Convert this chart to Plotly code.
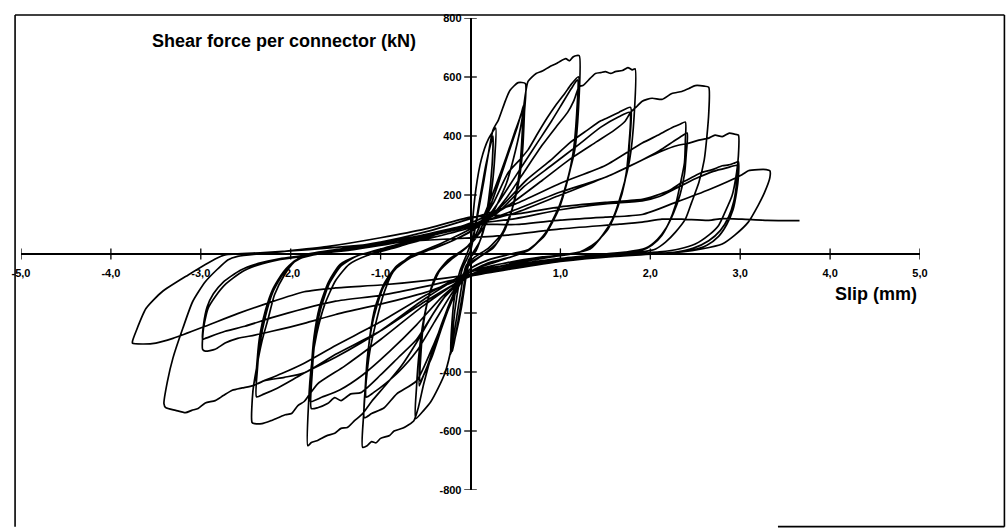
import plotly.graph_objects as go

# ---- tick values / labels ----
x_ticks = [-5, -4, -3, -2, -1, 0, 1, 2, 3, 4, 5]
x_tick_labels = ["-5,0", "-4,0", "-3,0", "-2,0", "-1,0", "", "1,0", "2,0", "3,0", "4,0", "5,0"]
y_ticks = [-800, -600, -400, -200, 0, 200, 400, 600, 800]
y_tick_labels = ["-800", "-600", "-400", "", "", "200", "400", "600", "800"]

# ---- hysteresis record: slip (mm), shear force (kN) ----
loops_small = [
    (0, 0), (0.02, 100), (0.06, 220), (0.12, 320), (0.2, 390), (0.28, 427),
    (0.27, 330), (0.24, 230), (0.18, 120), (0.1, 40), (0.0, -10),
    (-0.05, -80), (-0.1, -180), (-0.16, -270), (-0.22, -340),
    (-0.21, -250), (-0.18, -150), (-0.12, -60), (-0.04, 0),
    (0.03, 60), (0.1, 180), (0.17, 300), (0.25, 400),
    (0.24, 300), (0.2, 180), (0.14, 80), (0.06, 10), (-0.02, -20),
    (-0.08, -120), (-0.14, -230), (-0.2, -330),
    (-0.19, -240), (-0.15, -140), (-0.09, -50), (0.0, 10),
]
loops_06 = [
    (0.06, 100), (0.15, 250), (0.25, 420), (0.31, 454), (0.39, 521), (0.44, 555), (0.53, 581), (0.61, 578),
    (0.6, 480), (0.58, 353), (0.54, 250), (0.46, 150), (0.35, 70), (0.2, 20), (0.05, -10), (-0.05, -40),
    (-0.12, -150), (-0.2, -300), (-0.28, -400), (-0.36, -455), (-0.44, -500), (-0.52, -530), (-0.61, -558),
    (-0.6, -450), (-0.57, -330), (-0.52, -220), (-0.44, -120), (-0.33, -50), (-0.2, -10), (-0.05, 20),
    (0.05, 60), (0.15, 130), (0.28, 230), (0.4, 330), (0.5, 420), (0.56, 470), (0.59, 504),
    (0.58, 400), (0.55, 290), (0.5, 200), (0.42, 110), (0.3, 40), (0.15, 0), (0.0, -30),
    (-0.1, -80), (-0.2, -150), (-0.32, -250), (-0.43, -350), (-0.52, -410), (-0.57, -447),
    (-0.56, -350), (-0.53, -250), (-0.47, -150), (-0.38, -70), (-0.25, -20), (-0.1, 10),
    (0.05, 50), (0.18, 130), (0.3, 230), (0.42, 340), (0.52, 430), (0.58, 490),
    (0.57, 380), (0.54, 270), (0.48, 170), (0.38, 80), (0.25, 20), (0.1, -10), (-0.02, -40),
    (-0.12, -90), (-0.25, -180), (-0.38, -290), (-0.48, -380), (-0.56, -430),
    (-0.55, -330), (-0.52, -230), (-0.45, -130), (-0.35, -60), (-0.2, -15), (-0.05, 20),
]
loops_12 = [
    (0.1, 70), (0.25, 140), (0.4, 240), (0.5, 350), (0.57, 450), (0.61, 540), (0.64, 585), (0.73, 612),
    (0.8, 620), (0.88, 635), (0.95, 645), (0.99, 652), (1.06, 662), (1.1, 655), (1.14, 668), (1.17, 672), (1.21, 672),
    (1.2, 487), (1.16, 353), (1.1, 276), (0.99, 165), (0.84, 74), (0.66, 17), (0.45, 0), (0.2, -20), (0.0, -50),
    (-0.15, -120), (-0.3, -220), (-0.42, -330), (-0.52, -440), (-0.58, -520), (-0.63, -565), (-0.75, -590),
    (-0.85, -600), (-0.9, -615), (-1.0, -625), (-1.05, -640), (-1.1, -636), (-1.15, -650), (-1.2, -655),
    (-1.19, -550), (-1.16, -430), (-1.12, -330), (-1.05, -230), (-0.96, -130), (-0.86, -60), (-0.66, -5), (-0.4, 20), (-0.1, 60),
    (0.1, 100), (0.25, 170), (0.42, 276), (0.55, 320), (0.64, 353), (0.75, 410), (0.85, 460), (0.95, 505),
    (1.05, 545), (1.12, 575), (1.2, 601),
    (1.19, 480), (1.15, 350), (1.08, 250), (0.98, 150), (0.84, 70), (0.66, 15), (0.45, -10), (0.2, -30), (0.0, -60),
    (-0.1, -90), (-0.25, -190), (-0.4, -300), (-0.6, -430), (-0.82, -474), (-0.96, -521), (-1.1, -541), (-1.18, -555),
    (-1.17, -450), (-1.14, -330), (-1.08, -220), (-0.98, -120), (-0.85, -55), (-0.68, -15), (-0.45, 15), (-0.2, 45), (0.0, 75),
    (0.15, 110), (0.3, 170), (0.45, 240), (0.6, 310), (0.75, 380), (0.9, 450), (1.02, 510), (1.12, 560), (1.19, 590),
    (1.18, 470), (1.14, 340), (1.07, 240), (0.96, 140), (0.82, 60), (0.62, 10), (0.4, -15), (0.15, -40), (-0.05, -70),
    (-0.2, -130), (-0.4, -230), (-0.6, -330), (-0.8, -400), (-0.95, -440), (-1.08, -470), (-1.16, -485),
    (-1.15, -390), (-1.12, -280), (-1.06, -180), (-0.96, -100), (-0.82, -40), (-0.6, 0), (-0.3, 40), (0.0, 85),
]
loops_18 = [
    (0.2, 120), (0.4, 190), (0.6, 280), (0.8, 370), (0.95, 430), (1.08, 480), (1.15, 520), (1.21, 568), (1.25, 571),
    (1.33, 595), (1.39, 612), (1.45, 615), (1.5, 618), (1.56, 612), (1.61, 618), (1.69, 622), (1.75, 632), (1.8, 624), (1.83, 628),
    (1.82, 467), (1.77, 319), (1.69, 218), (1.58, 118), (1.47, 64), (1.33, 17), (1.1, 0), (0.8, -10), (0.4, -30), (0.0, -60),
    (-0.22, -120), (-0.41, -200), (-0.6, -300), (-0.77, -380), (-0.96, -450), (-1.1, -500), (-1.2, -541), (-1.29, -565),
    (-1.37, -588), (-1.44, -591), (-1.51, -608), (-1.59, -615), (-1.66, -625), (-1.7, -632), (-1.77, -639), (-1.81, -650),
    (-1.8, -500), (-1.77, -380), (-1.71, -270), (-1.62, -170), (-1.5, -90), (-1.35, -35), (-1.15, -5), (-0.8, 25), (-0.4, 65), (0.0, 105),
    (0.3, 150), (0.62, 250), (0.9, 320), (1.1, 376), (1.3, 420), (1.44, 450), (1.55, 465), (1.65, 480), (1.78, 497),
    (1.77, 380), (1.73, 270), (1.66, 180), (1.55, 100), (1.42, 45), (1.25, 10), (1.0, -5), (0.6, -25), (0.2, -50), (0.0, -70),
    (-0.3, -150), (-0.6, -290), (-0.8, -350), (-1.0, -410), (-1.22, -470), (-1.33, -474), (-1.44, -497), (-1.51, -487),
    (-1.59, -507), (-1.7, -521), (-1.77, -524),
    (-1.76, -400), (-1.73, -290), (-1.67, -190), (-1.57, -100), (-1.44, -40), (-1.25, -5), (-0.9, 20), (-0.5, 50), (0.0, 90),
    (0.3, 140), (0.6, 230), (0.9, 300), (1.2, 370), (1.45, 430), (1.65, 465), (1.77, 480),
    (1.76, 360), (1.72, 250), (1.64, 160), (1.53, 85), (1.38, 35), (1.2, 5), (0.9, -10), (0.5, -30), (0.0, -70),
    (-0.3, -140), (-0.6, -240), (-0.9, -330), (-1.2, -410), (-1.45, -460), (-1.65, -485), (-1.78, -500),
    (-1.77, -390), (-1.74, -280), (-1.68, -180), (-1.58, -95), (-1.45, -35), (-1.25, -5), (-0.9, 25), (-0.4, 65), (0.0, 95),
]
loops_24 = [
    (0.4, 160), (0.8, 250), (1.1, 320), (1.4, 380), (1.6, 420), (1.72, 450), (1.78, 480), (1.85, 500), (1.91, 518),
    (2.02, 528), (2.13, 524), (2.24, 544), (2.35, 551), (2.43, 561), (2.5, 571), (2.6, 569), (2.65, 565),
    (2.65, 477), (2.63, 400), (2.6, 319), (2.54, 242), (2.46, 175), (2.39, 118), (2.28, 74), (2.17, 40), (2.06, 17),
    (1.91, 7), (1.5, -5), (1.0, -20), (0.5, -40), (0.0, -70),
    (-0.5, -170), (-1.0, -290), (-1.4, -380), (-1.7, -440), (-1.8, -480), (-1.85, -500), (-1.92, -514), (-1.99, -541),
    (-2.06, -545), (-2.14, -555), (-2.22, -565), (-2.32, -575), (-2.4, -575), (-2.43, -571),
    (-2.42, -464), (-2.38, -387), (-2.32, -296), (-2.25, -218), (-2.18, -138), (-2.07, -71), (-1.96, -27), (-1.85, -3),
    (-1.5, 15), (-1.0, 40), (-0.5, 75), (0.0, 120),
    (0.5, 170), (1.0, 240), (1.5, 300), (1.91, 376), (2.1, 405), (2.25, 430), (2.33, 440), (2.39, 447),
    (2.39, 386), (2.38, 309), (2.33, 232), (2.28, 165), (2.21, 108), (2.13, 64), (2.02, 30), (1.91, 13), (1.5, 0),
    (1.0, -15), (0.5, -35), (0.0, -60),
    (-0.5, -150), (-1.0, -260), (-1.5, -350), (-1.85, -403), (-2.0, -430), (-2.15, -455), (-2.3, -475), (-2.38, -484),
    (-2.37, -390), (-2.34, -300), (-2.28, -210), (-2.2, -130), (-2.08, -65), (-1.95, -25), (-1.8, -5), (-1.4, 12),
    (-0.8, 40), (0.0, 100),
    (0.5, 140), (1.0, 200), (1.5, 260), (1.91, 319), (2.1, 350), (2.25, 380), (2.35, 400), (2.41, 410),
    (2.4, 340), (2.38, 270), (2.33, 200), (2.26, 140), (2.18, 90), (2.08, 50), (1.95, 20), (1.7, 5), (1.2, -10),
    (0.6, -30), (0.0, -60),
    (-0.5, -140), (-1.0, -230), (-1.5, -310), (-1.85, -370), (-2.1, -405), (-2.3, -430), (-2.38, -440),
    (-2.37, -350), (-2.34, -270), (-2.28, -190), (-2.2, -120), (-2.08, -60), (-1.95, -22), (-1.75, -3), (-1.3, 15),
    (-0.7, 45), (0.0, 95),
]
loops_30 = [
    (0.5, 150), (1.0, 210), (1.5, 260), (1.91, 319), (2.13, 349), (2.28, 366), (2.43, 376), (2.54, 386), (2.65, 393),
    (2.72, 403), (2.8, 398), (2.88, 410), (2.94, 406), (2.98, 403),
    (2.98, 333), (2.96, 276), (2.91, 198), (2.83, 141), (2.76, 97), (2.65, 64), (2.5, 34), (2.32, 17), (2.1, 7),
    (1.6, -5), (1.0, -20), (0.5, -40), (0.0, -75),
    (-0.5, -160), (-1.0, -260), (-1.5, -340), (-1.85, -403), (-2.07, -418), (-2.3, -430), (-2.42, -446), (-2.54, -454),
    (-2.65, -462), (-2.75, -480), (-2.84, -497), (-2.95, -505), (-3.03, -524), (-3.1, -530), (-3.17, -538),
    (-3.28, -530), (-3.39, -521), (-3.41, -507),
    (-3.37, -430), (-3.31, -353), (-3.2, -252), (-3.09, -161), (-2.95, -94), (-2.81, -50), (-2.7, -20), (-2.59, -8),
    (-2.2, 5), (-1.6, 25), (-1.0, 55), (-0.5, 85), (0.0, 125),
    (0.5, 135), (1.0, 160), (1.5, 175), (1.91, 185), (2.06, 198), (2.21, 215), (2.35, 242), (2.46, 259), (2.57, 276),
    (2.69, 286), (2.8, 299), (2.87, 302), (2.94, 309), (2.98, 313),
    (2.98, 260), (2.96, 210), (2.92, 150), (2.85, 100), (2.76, 60), (2.63, 30), (2.45, 12), (2.2, 3), (1.6, -8),
    (1.0, -25), (0.5, -45), (0.0, -75),
    (-0.5, -130), (-1.0, -170), (-1.5, -205), (-1.85, -235), (-2.21, -262), (-2.4, -275), (-2.59, -286), (-2.73, -302),
    (-2.84, -323), (-2.95, -329), (-2.98, -323),
    (-2.97, -252), (-2.92, -185), (-2.84, -145), (-2.73, -104), (-2.54, -60), (-2.36, -37), (-2.14, -20), (-1.8, -5),
    (-1.2, 25), (-0.6, 60), (0.0, 100),
    (0.5, 120), (1.0, 150), (1.5, 170), (1.91, 180), (2.1, 195), (2.3, 225), (2.5, 255), (2.7, 280), (2.85, 292), (2.97, 300),
    (2.96, 240), (2.93, 180), (2.87, 125), (2.78, 80), (2.65, 45), (2.48, 20), (2.25, 5), (1.7, -6), (1.0, -25), (0.0, -75),
    (-0.5, -110), (-1.0, -140), (-1.5, -160), (-1.85, -185), (-2.2, -215), (-2.51, -245), (-2.73, -262), (-2.95, -286), (-2.98, -289),
    (-2.97, -240), (-2.93, -180), (-2.86, -135), (-2.75, -95), (-2.56, -55), (-2.36, -32), (-2.1, -15), (-1.7, 2),
    (-1.1, 30), (-0.5, 65), (0.0, 100),
]
loops_final = [
    (0.5, 100), (1.0, 115), (1.5, 125), (1.91, 134), (2.28, 175), (2.65, 218), (3.02, 269), (3.09, 282), (3.2, 286),
    (3.29, 286), (3.33, 282),
    (3.33, 259), (3.27, 208), (3.2, 165), (3.09, 108), (2.94, 64), (2.8, 34), (2.57, 17), (2.35, 7), (2.0, 0),
    (1.5, -10), (1.0, -25), (0.5, -45), (0.0, -70),
    (-0.5, -90), (-1.0, -105), (-1.5, -115), (-1.85, -128), (-2.59, -202), (-2.95, -245), (-3.31, -286), (-3.5, -302),
    (-3.65, -305), (-3.76, -302),
    (-3.76, -296), (-3.72, -262), (-3.61, -185), (-3.43, -128), (-3.14, -71), (-2.84, -17), (-2.73, -3), (-2.3, 5),
    (-1.8, 15), (-1.2, 30), (-0.6, 45), (0.0, 55),
    (0.41, 64), (1.0, 85), (1.66, 101), (1.91, 108), (2.13, 118), (2.35, 118), (2.65, 114), (2.8, 120), (3.02, 118),
    (3.3, 114), (3.66, 113),
]

record = loops_small + loops_06 + loops_12 + loops_18 + loops_24 + loops_30 + loops_final
slip = [p[0] for p in record]
force = [p[1] for p in record]

fig = go.Figure()
fig.add_trace(go.Scatter(x=slip, y=force, mode="lines",
                         line=dict(color="black", width=1.7, shape="spline", smoothing=0.6),
                         hoverinfo="skip", showlegend=False))
# crossing tick marks on both axes
fig.add_trace(go.Scatter(x=x_ticks, y=[0] * len(x_ticks), mode="markers",
                         marker=dict(symbol="line-ns", size=8, line=dict(color="black", width=1.3)),
                         hoverinfo="skip", showlegend=False))
fig.add_trace(go.Scatter(x=[0] * len(y_ticks), y=y_ticks, mode="markers",
                         marker=dict(symbol="line-ew", size=9, line=dict(color="black", width=1.3)),
                         hoverinfo="skip", showlegend=False))

font_family = "Liberation Sans, Arial, sans-serif"
fig.update_layout(
    width=1008, height=528,
    margin=dict(l=15, r=88, t=14, b=38),
    paper_bgcolor="white", plot_bgcolor="white",
    xaxis=dict(range=[-5, 5], anchor="free", position=0.5, showgrid=False,
               zeroline=True, zerolinecolor="black", zerolinewidth=1.6, showline=False,
               tickvals=x_ticks, ticktext=x_tick_labels, ticks="", ticklabelstandoff=11,
               tickfont=dict(family=font_family, size=11, color="black", weight="bold"),
               layer="below traces"),
    yaxis=dict(range=[-800, 800], anchor="free", position=0.5, showgrid=False,
               zeroline=True, zerolinecolor="black", zerolinewidth=1.6, showline=False,
               tickvals=y_ticks, ticktext=y_tick_labels, ticks="", ticklabelstandoff=9,
               tickfont=dict(family=font_family, size=11, color="black", weight="bold"),
               layer="below traces"),
    annotations=[
        dict(text="<b>Shear force per connector (kN)</b>", xref="paper", yref="paper",
             x=0.2928, y=0.9517, showarrow=False, xanchor="center", yanchor="middle",
             font=dict(family=font_family, size=18, color="black")),
        dict(text="<b>Slip (mm)</b>", xref="paper", yref="paper",
             x=0.9514, y=0.416, showarrow=False, xanchor="center", yanchor="middle",
             font=dict(family=font_family, size=18, color="black")),
    ],
    shapes=[
        dict(type="line", xref="paper", yref="paper", x0=-0.0066, x1=-0.0066, y0=1.0063, y1=-0.0777,
             line=dict(color="black", width=1.6)),
        dict(type="line", xref="paper", yref="paper", x0=-0.0066, x1=1.0939, y0=1.0063, y1=1.0063,
             line=dict(color="black", width=1.6)),
        dict(type="line", xref="paper", yref="paper", x0=1.0939, x1=1.0939, y0=1.0063, y1=-0.0777,
             line=dict(color="black", width=1.6)),
        dict(type="line", xref="paper", yref="paper", x0=0.842, x1=1.0939, y0=-0.0777, y1=-0.0777,
             line=dict(color="black", width=1.6)),
    ],
)

fig.write_html("out.html")
